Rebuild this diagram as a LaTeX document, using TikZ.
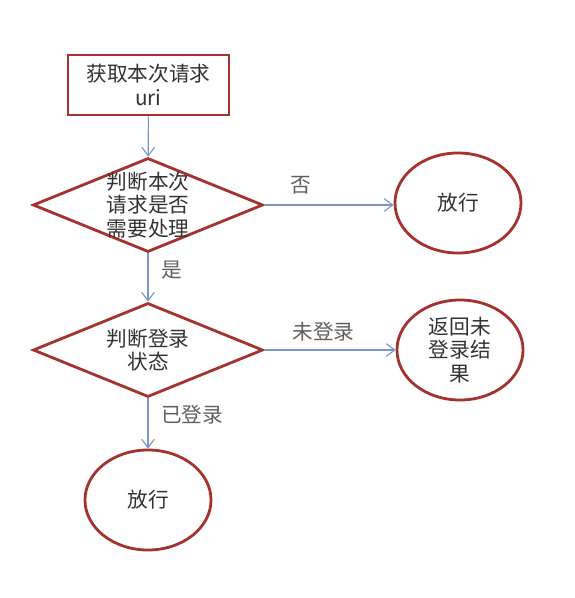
\documentclass[tikz,border=0pt]{standalone}
\usepackage{fontspec}
\setmainfont{Noto Sans CJK SC}
\usepackage{tikz}
\usetikzlibrary{
    arrows.meta,
    positioning,
    shapes.geometric
}
\definecolor{boxred}{RGB}{165,50,45}
\definecolor{flowblue}{RGB}{122,150,200}
\definecolor{txtgray}{RGB}{50,50,50}
\definecolor{lblgray}{RGB}{95,95,95}

\begin{document}
\begin{tikzpicture}[
    x=0.025cm, y=-0.025cm,
    font=\fontsize{14.7}{16.5}\selectfont, text=txtgray,
    rbox/.style={draw=boxred, line width=2pt, minimum width=4.02cm,
                 minimum height=1.5cm, align=center, inner sep=0pt},
    cond/.style={diamond, draw=boxred, line width=2pt, aspect=2.45,
                 minimum width=5.75cm, minimum height=2.35cm,
                 align=center, inner sep=-3pt},
    term/.style={ellipse, draw=boxred, line width=2pt,
                 minimum width=3.15cm, minimum height=2.5cm,
                 align=center, inner sep=0pt},
    arr/.style={-{Straight Barb[length=6pt,width=9pt]}, line width=0.8pt, flowblue},
    lbl/.style={text=lblgray, inner sep=0pt}
  ]
    \useasboundingbox (0,0) rectangle (574,598);
    % main column
    \node[rbox](uri)    at (148.5, 85) {获取本次请求\\uri};
    \node[cond](need)   at (148, 205)  {判断本次\\请求是否\\需要处理};
    \node[cond](login)  at (148, 350)  {判断登录\\状态};
    \node[term](passB)  at (148, 500)  {放行};
    % right column
    \node[term](passA)  at (458, 203)  {放行};
    \node[term](back)   at (460, 350)  {返回未\\登录结\\果};

    \draw[arr](uri)--(need);
    \draw[arr](need)--node[lbl, right=9pt, pos=0.35]{是}(login);
    \draw[arr](login)--node[lbl, right=9pt, pos=0.32]{已登录}(passB);
    \draw[arr](need.east)--node[lbl, above=7pt, pos=0.28]{否}(need.east -| passA.west);
    \draw[arr](login.east)--node[lbl, above=6pt, pos=0.45]{未登录}(back.west);
  \end{tikzpicture}
\end{document}
